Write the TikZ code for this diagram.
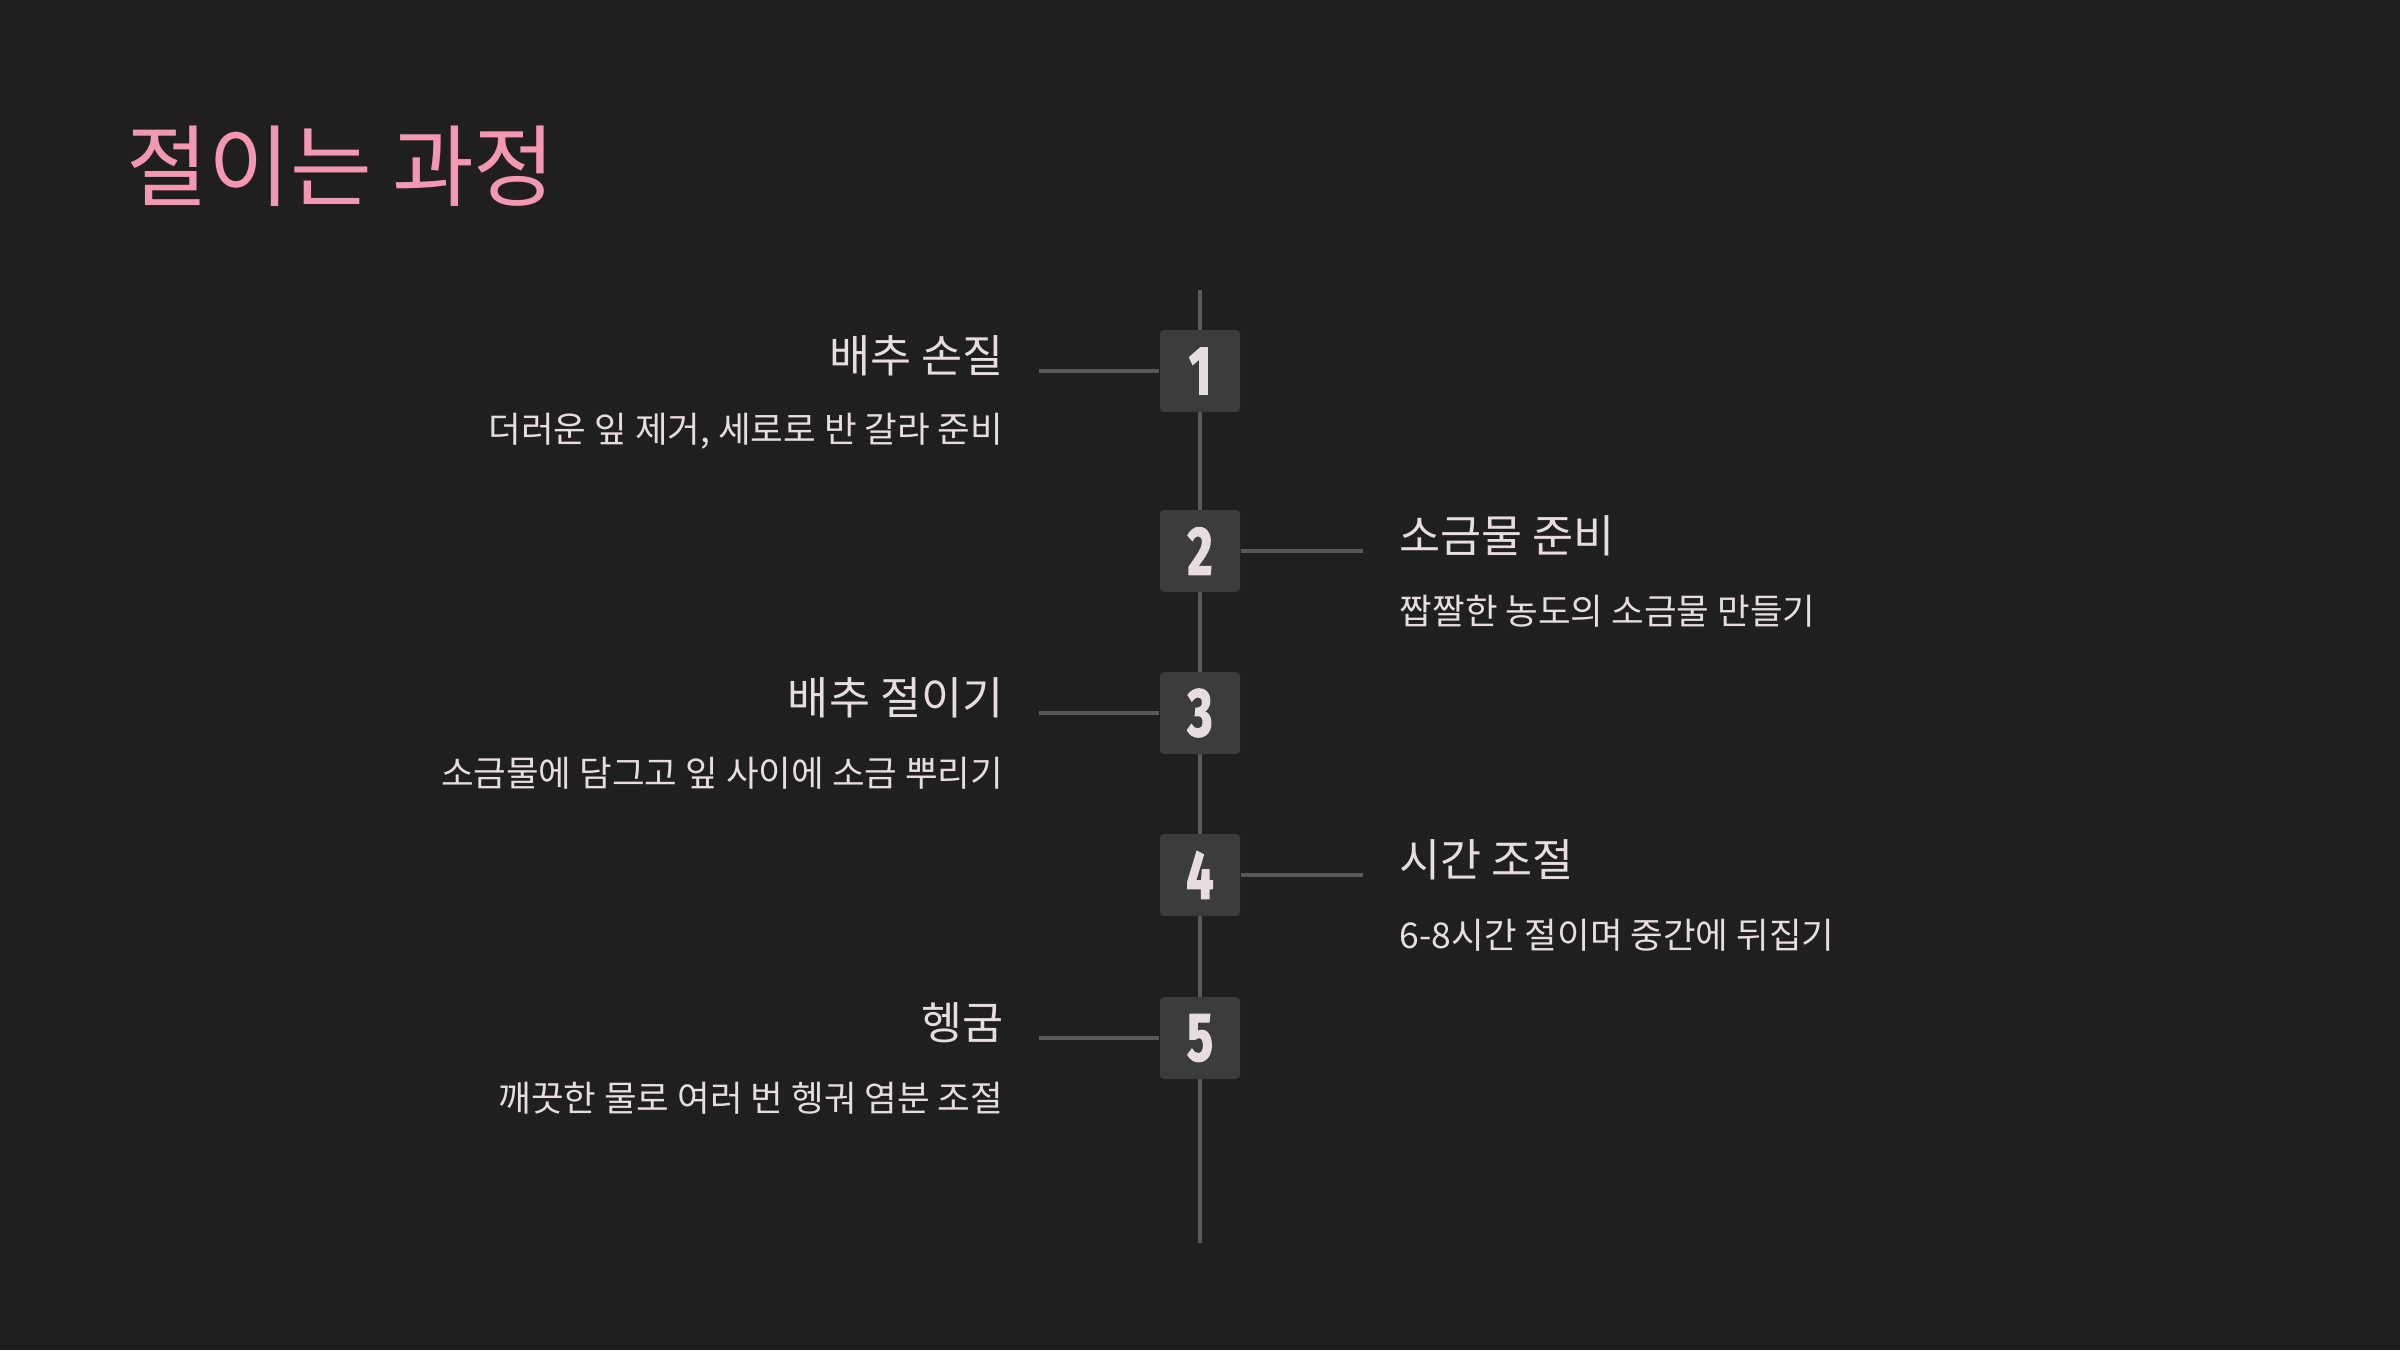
\documentclass[tikz,border=0pt]{standalone}
\usepackage{fontspec}
\setmainfont{Noto Sans CJK KR}
\newfontfamily\numfont[FakeStretch=0.7,FakeBold=1.8]{Fira Sans}
\usetikzlibrary{positioning}

\definecolor{bgdark}{HTML}{1F1F1F}
\definecolor{boxgrey}{HTML}{3C3C3C}
\definecolor{railgrey}{HTML}{595959}
\definecolor{txtlight}{HTML}{E6DCE2}
\definecolor{titlepink}{HTML}{F497B3}

\begin{document}
\begin{tikzpicture}[
  stepbox/.style={fill=boxgrey,rounded corners=0.4mm,minimum width=8mm,
                  minimum height=8.2mm,inner sep=0pt,text=txtlight,
                  font=\numfont\bfseries\fontsize{19.5pt}{20pt}\selectfont},
  rail/.style={draw=railgrey,line width=0.4mm},
  link/.style={draw=railgrey,line width=0.35mm},
  head/.style={font=\fontsize{12.7pt}{14pt}\selectfont,text=txtlight,inner sep=0pt},
  desc/.style={font=\fontsize{10.1pt}{12pt}\selectfont,text=txtlight,inner sep=0pt},
]

% canvas
\fill[bgdark] (0mm,0mm) rectangle (240mm,-135mm);
\useasboundingbox (0mm,0mm) rectangle (240mm,-135mm);

\node[anchor=west,inner sep=0pt,text=titlepink,
      font=\fontsize{25.3pt}{30pt}\selectfont] (title) at (12.6mm,-16.6mm) {절이는 과정};

% the rail, boxes sit on top of it
\coordinate (railtop) at (120mm,-29mm);
\coordinate (railend) at (120mm,-124.3mm);
\draw[rail] (railtop) -- (railend);

\node[stepbox] (step1) at (120mm,-37.1mm) {1};
\node[stepbox] (step2) at (120mm,-55.1mm) {2};
\node[stepbox] (step3) at (120mm,-71.3mm) {3};
\node[stepbox] (step4) at (120mm,-87.5mm) {4};
\node[stepbox] (step5) at (120mm,-103.8mm) {5};

% 1 -- left
\coordinate (tip1) at (103.9mm,-37.1mm);
\draw[link] (tip1) -- (step1.west);
\node[head,anchor=east] (head1) at (100.4mm,-35.6mm) {배추 손질};
\node[desc,anchor=east] (desc1) at (100.4mm,-43.1mm) {더러운 잎 제거, 세로로 반 갈라 준비};

% 2 -- right
\coordinate (tip2) at (136.3mm,-55.1mm);
\draw[link] (step2.east) -- (tip2);
\node[head,anchor=west] (head2) at (139.9mm,-53.6mm) {소금물 준비};
\node[desc,anchor=west] (desc2) at (139.9mm,-61.1mm) {짭짤한 농도의 소금물 만들기};

% 3 -- left
\coordinate (tip3) at (103.9mm,-71.3mm);
\draw[link] (tip3) -- (step3.west);
\node[head,anchor=east] (head3) at (100.4mm,-69.8mm) {배추 절이기};
\node[desc,anchor=east] (desc3) at (100.4mm,-77.3mm) {소금물에 담그고 잎 사이에 소금 뿌리기};

% 4 -- right
\coordinate (tip4) at (136.3mm,-87.5mm);
\draw[link] (step4.east) -- (tip4);
\node[head,anchor=west] (head4) at (139.9mm,-86mm) {시간 조절};
\node[desc,anchor=west] (desc4) at (139.9mm,-93.5mm) {6-8시간 절이며 중간에 뒤집기};

% 5 -- left
\coordinate (tip5) at (103.9mm,-103.8mm);
\draw[link] (tip5) -- (step5.west);
\node[head,anchor=east] (head5) at (100.4mm,-102.3mm) {헹굼};
\node[desc,anchor=east] (desc5) at (100.4mm,-109.8mm) {깨끗한 물로 여러 번 헹궈 염분 조절};

\end{tikzpicture}
\end{document}
